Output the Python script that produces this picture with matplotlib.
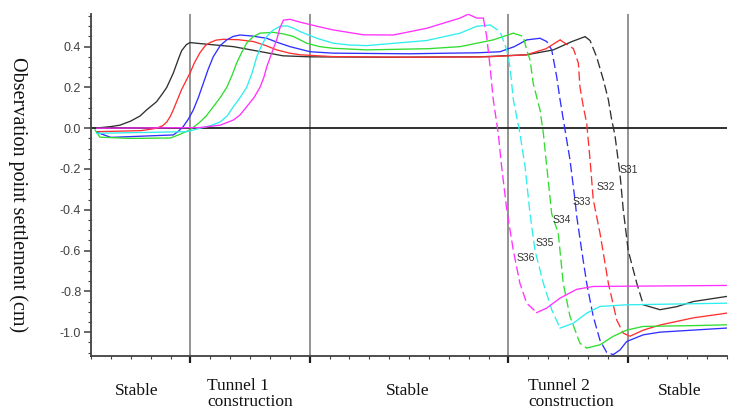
import matplotlib
matplotlib.use("Agg")
import matplotlib.pyplot as plt
import numpy as np

# Monitoring points: (time step, settlement in cm)
s31_x = [0.20, 1.0, 1.46, 2.0, 2.47, 2.80, 3.3, 3.6, 3.81, 4.14, 4.4, 4.56, 4.8, 4.98, 5.48, 7.16, 8.84, 9.66, 11.0, 15.0,
         19.57, 21.92, 23.26, 24.2, 24.86, 25.11, 25.44, 25.78, 26.03, 26.20, 26.36, 26.62, 26.78, 27.03, 27.46, 27.79,
         28.63, 29.47, 30.30, 31.98]
s31_y = [0.0, 0.008, 0.015, 0.035, 0.06, 0.09, 0.13, 0.17, 0.20, 0.27, 0.34, 0.38, 0.41, 0.42, 0.415, 0.40, 0.37, 0.355,
         0.35, 0.348, 0.35, 0.36, 0.384, 0.425, 0.449, 0.43, 0.35, 0.237, 0.14, 0.04, -0.033, -0.23, -0.40, -0.60, -0.76,
         -0.866, -0.89, -0.875, -0.85, -0.825]

s32_x = [0.29, 2.5, 3.0, 3.3, 3.6, 3.81, 4.0, 4.14, 4.35, 4.56, 4.98, 5.2, 5.48, 5.75, 5.99, 6.3, 6.66, 7.4, 8.17, 8.8,
         9.34, 10.0, 10.52, 12.18, 16.0, 20.0, 21.92, 22.9, 23.60, 24.27, 24.52, 24.60, 24.77, 24.94, 25.11, 25.27, 25.61,
         26.03, 26.45, 26.78, 27.12, 27.79, 28.63, 30.30, 31.98]
s32_y = [-0.017, -0.012, -0.005, 0.0, 0.012, 0.03, 0.06, 0.09, 0.14, 0.19, 0.27, 0.32, 0.37, 0.405, 0.42, 0.432, 0.436,
         0.434, 0.425, 0.405, 0.384, 0.368, 0.36, 0.351, 0.348, 0.35, 0.36, 0.39, 0.433, 0.39, 0.32, 0.204, 0.106, 0.025,
         -0.155, -0.35, -0.515, -0.76, -0.94, -1.005, -1.02, -0.99, -0.965, -0.93, -0.907]

s33_x = [0.29, 1.0, 4.14, 4.4, 4.64, 4.9, 5.15, 5.4, 5.65, 5.9, 6.15, 6.5, 6.83, 7.15, 7.50, 8.1, 8.84, 9.4, 10.01, 11.02,
         12.18, 16.0, 19.5, 20.58, 21.3, 21.92, 22.59, 22.93, 23.18, 23.43, 23.60, 23.85, 24.10, 24.35, 24.44, 24.69, 24.94,
         25.27, 25.61, 25.95, 26.28, 26.62, 26.95, 27.79, 28.63, 30.30, 31.98]
s33_y = [-0.02, -0.045, -0.033, -0.015, 0.008, 0.045, 0.09, 0.15, 0.22, 0.29, 0.35, 0.405, 0.433, 0.45, 0.457, 0.452, 0.441,
         0.42, 0.40, 0.375, 0.368, 0.365, 0.37, 0.375, 0.40, 0.433, 0.441, 0.425, 0.384, 0.253, 0.14, -0.008, -0.155, -0.35,
         -0.433, -0.60, -0.76, -0.923, -1.04, -1.10, -1.11, -1.087, -1.046, -1.013, -1.0, -0.99, -0.98]

s34_x = [0.20, 0.45, 2.0, 4.0, 4.48, 4.98, 5.48, 5.8, 6.15, 6.5, 6.83, 7.1, 7.33, 7.6, 7.83, 8.15, 8.50, 9.17, 9.7, 10.18,
         10.85, 11.5, 12.18, 13.87, 17.0, 18.57, 20.24, 21.25, 21.75, 21.92, 22.09, 22.25, 22.59, 22.76, 22.93, 23.18, 23.51,
         23.76, 24.10, 24.60, 24.94, 25.61, 26.28, 26.95, 27.79, 30.30, 31.98]
s34_y = [-0.008, -0.044, -0.05, -0.048, -0.03, -0.008, 0.03, 0.06, 0.105, 0.15, 0.20, 0.26, 0.32, 0.375, 0.417, 0.448, 0.466,
         0.47, 0.462, 0.45, 0.417, 0.40, 0.392, 0.384, 0.39, 0.40, 0.433, 0.466, 0.45, 0.384, 0.335, 0.22, 0.09, -0.025,
         -0.188, -0.42, -0.515, -0.76, -0.923, -1.054, -1.078, -1.062, -1.02, -0.99, -0.972, -0.968, -0.964]

s35_x = [0.29, 4.82, 5.48, 6.0, 6.49, 6.85, 7.16, 7.5, 7.83, 8.1, 8.34, 8.6, 8.84, 9.15, 9.51, 9.85, 10.2, 10.52, 11.36,
         12.18, 13.0, 13.87, 16.89, 18.57, 19.41, 20.08, 20.58, 20.92, 21.08, 21.25, 21.58, 21.84, 22.09, 22.34, 22.76,
         23.18, 23.60, 24.27, 24.94, 25.61, 26.95, 31.98]
s35_y = [-0.025, -0.017, 0.0, 0.012, 0.03, 0.06, 0.105, 0.15, 0.20, 0.27, 0.35, 0.41, 0.45, 0.48, 0.50, 0.502, 0.49, 0.474,
         0.441, 0.417, 0.408, 0.405, 0.43, 0.466, 0.50, 0.506, 0.474, 0.384, 0.30, 0.14, -0.025, -0.188, -0.42, -0.60, -0.76,
         -0.89, -0.98, -0.956, -0.907, -0.874, -0.866, -0.858]

s36_x = [0.29, 5.48, 6.5, 7.16, 7.5, 7.83, 8.2, 8.50, 8.7, 8.84, 9.1, 9.34, 9.5, 9.68, 10.01, 10.52, 11.36, 12.18, 13.7,
         15.21, 16.89, 17.73, 18.57, 18.98, 19.41, 19.74, 19.91, 20.08, 20.24, 20.49, 20.66, 20.92, 21.25, 21.58, 21.92,
         22.43, 22.93, 23.60, 24.44, 25.27, 31.98]
s36_y = [0.0, 0.003, 0.015, 0.04, 0.065, 0.105, 0.15, 0.20, 0.25, 0.30, 0.37, 0.433, 0.49, 0.53, 0.534, 0.52, 0.50, 0.482,
         0.458, 0.457, 0.49, 0.515, 0.54, 0.559, 0.54, 0.54, 0.45, 0.30, 0.14, -0.025, -0.188, -0.40, -0.60, -0.76, -0.858,
         -0.904, -0.882, -0.833, -0.79, -0.776, -0.771]

series_names = ["S31", "S32", "S33", "S34", "S35", "S36"]
series_x = [s31_x, s32_x, s33_x, s34_x, s35_x, s36_x]
series_y = [s31_y, s32_y, s33_y, s34_y, s35_y, s36_y]
colors = ["#303030", "#ff3030", "#3030ff", "#30dd30", "#30eeee", "#ff30ff"]

# time span of the rapid drop during the second tunnel (drawn dashed)
drop_from = [24.86, 23.60, 22.59, 21.25, 20.08, 19.74]
drop_to = [27.79, 27.12, 26.28, 24.94, 23.60, 22.43]

# label anchors for each monitoring point
label_x = [26.6, 25.44, 24.25, 23.23, 22.39, 21.42]
label_y = [-0.205, -0.286, -0.36, -0.45, -0.564, -0.637]

phase_lines = [5, 11, 21, 27]
phase_names = ["Stable", "Tunnel 1\nconstruction", "Stable", "Tunnel 2\nconstruction", "Stable"]
phase_pos = [2.3, 5.84, 15.92, 22.0, 29.6]
phase_ha = ["center", "left", "center", "left", "center"]

fig = plt.figure(figsize=(7.29, 4.12), dpi=100)
ax = fig.add_axes([91 / 729, 1 - 355.6 / 412, 636 / 729, 341.6 / 412])

ax.set_xlim(0, 32)
ax.set_ylim(-1.115, 0.56)

for xv in phase_lines:
    ax.axvline(xv, color="#8a8a8a", lw=1.3, zorder=1)
ax.axhline(0.0, color="#202020", lw=1.3, zorder=2)

for xs, ys, c, x0, x1 in zip(series_x, series_y, colors, drop_from, drop_to):
    xs = np.asarray(xs)
    ys = np.asarray(ys)
    a = int(np.searchsorted(xs, x0))
    b = int(np.searchsorted(xs, x1))
    ax.plot(xs[:a + 1], ys[:a + 1], color=c, lw=0.95, zorder=3)
    ax.plot(xs[a:b + 1], ys[a:b + 1], color=c, lw=0.95, ls=(0, (7, 3)), zorder=3)
    ax.plot(xs[b:], ys[b:], color=c, lw=0.95, zorder=3)

for name, lx, ly in zip(series_names, label_x, label_y):
    ax.text(lx, ly, name, fontsize=7.5, color="#333333", family="Liberation Sans",
            ha="left", va="center", zorder=4)

for name, px, ha in zip(phase_names, phase_pos, phase_ha):
    if "\n" in name:
        ax.text(px, -0.066, name, transform=ax.get_xaxis_transform(), ha=ha, va="top",
                fontsize=12.5, family="Liberation Serif", linespacing=0.95, color="#111111")
    else:
        ax.text(px, -0.104, name, transform=ax.get_xaxis_transform(), ha=ha, va="center",
                fontsize=12.5, family="Liberation Serif", color="#111111")

fig.text(18 / 729, 1 - 195 / 412, "Observation point settlement (cm)", rotation=270,
         ha="center", va="center", fontsize=14.5, family="Liberation Serif", color="#111111")

for side in ["top", "right"]:
    ax.spines[side].set_visible(False)
for side in ["left", "bottom"]:
    ax.spines[side].set_color("#404040")
    ax.spines[side].set_linewidth(1.3)

ax.set_yticks([-1.0, -0.8, -0.6, -0.4, -0.2, 0.0, 0.2, 0.4])
ax.set_yticklabels(["-1.0", "-0.8", "-0.6", "-0.4", "-0.2", "0.0", "0.2", "0.4"],
                   fontsize=9, family="Liberation Sans", color="#404040")
ax.set_yticks(np.arange(-1.10, 0.56, 0.05), minor=True)
ax.tick_params(axis="y", which="major", length=5, width=1.1, color="#404040", pad=2)
ax.tick_params(axis="y", which="minor", length=2.5, width=0.8, color="#404040")

ax.set_xticks(phase_lines)
ax.set_xticklabels([])
ax.set_xticks(np.arange(0, 33, 1), minor=True)
ax.tick_params(axis="x", which="major", length=5, width=1.6, color="#202020")
ax.tick_params(axis="x", which="minor", length=2.5, width=0.8, color="#404040")

fig.savefig("out.png", dpi=100)
